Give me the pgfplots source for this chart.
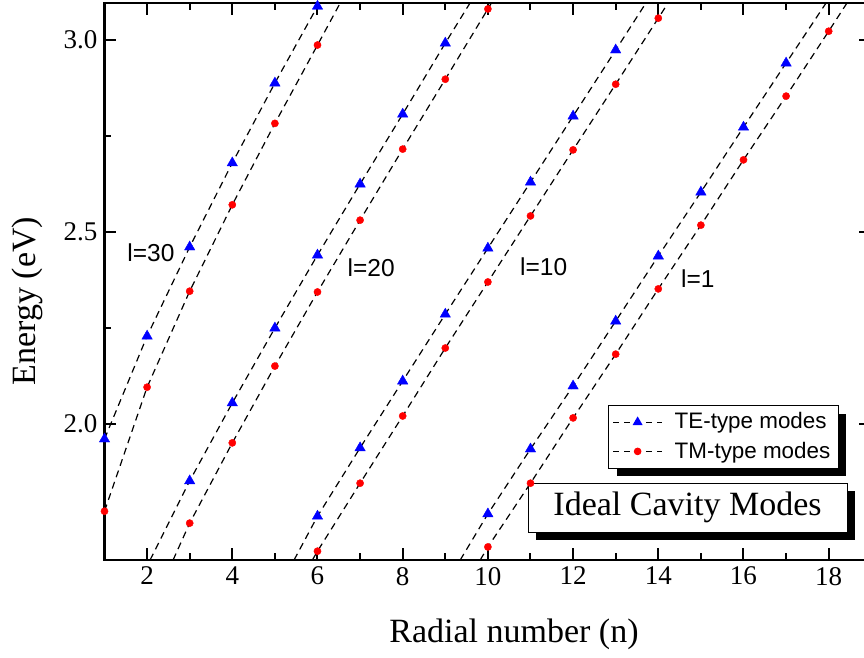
\documentclass[border=0pt]{standalone}
\usepackage{pgfplots}
\pgfplotsset{compat=1.18}
\usepackage{fontspec}
\setmainfont{Liberation Serif}
\newfontfamily\arialf{Liberation Sans}
\usetikzlibrary{shadows,calc}
\makeatletter
\tikzset{no preactions/.code={\let\tikz@preactions\pgfutil@empty}}
\makeatother
\pgfplotsset{
  fitline/.style={black, line width=0.6pt, dash pattern=on 3.5pt off 2.5pt, no markers, forget plot},
  te/.style={only marks, mark=triangle*, mark size=3.0pt, mark options={fill=blue, draw=blue, line width=0.2pt}, forget plot},
  tm/.style={only marks, mark=*, mark size=1.8pt, mark options={fill=red, draw=red, line width=0.2pt}, forget plot},
}
\begin{document}
\begin{tikzpicture}
\begin{axis}[
  name=ax,
  scale only axis,
  width=383.4pt, height=278.4pt,
  xmin=1, xmax=19, ymin=1.646, ymax=3.096,
  xtick={2,4,...,18}, minor x tick num=1,
  ytick={2.0,2.5,3.0}, minor y tick num=1,
  tick align=inside, tick pos=both,
  major tick length=6pt, minor tick length=3.5pt,
  every tick/.style={black, line width=1pt},
  axis line style={line width=1.3pt},
  tick label style={font=\fontsize{13.5}{15}\selectfont},
  /pgf/number format/assume math mode=true,
  yticklabel style={/pgf/number format/fixed, /pgf/number format/fixed zerofill, /pgf/number format/precision=1},
  xlabel={Radial number (n)}, ylabel={Energy (eV)},
  label style={font=\fontsize{17}{20}\selectfont},
  xlabel style={at={(rel axis cs:0.534,0)}, anchor=base, yshift=-41.5pt},
  ylabel style={at={($(rel axis cs:0,0.465)+(-38.5pt,0pt)$)}, anchor=center},
  legend style={at={(axis cs:12.82,2.0495)}, anchor=north west, draw=black, line width=0.5pt, fill=white,
    drop shadow={shadow xshift=4pt, shadow yshift=-4pt, fill=black, opacity=1},
    font=\arialf\fontsize{11.2}{13}\selectfont, inner xsep=2pt, inner ysep=1.5pt, row sep=1pt,
    /tikz/every odd column/.append style={column sep=4pt}},
  legend cell align=left,
  legend image code/.code={\draw[no preactions, mark repeat=2,mark phase=2,#1] plot coordinates {(0pt,0pt) (12.25pt,0pt) (24.5pt,0pt)};},
]
\addlegendimage{black, line width=0.6pt, dash pattern=on 3pt off 2.5pt, mark=triangle*, mark size=2.3pt, mark options={solid, fill=blue, draw=blue}}
\addlegendentry{TE-type modes}
\addlegendimage{black, line width=0.6pt, dash pattern=on 3pt off 2.5pt, mark=*, mark size=1.6pt, mark options={solid, fill=red, draw=red}}
\addlegendentry{TM-type modes}

% l = 30
\addplot[fitline] coordinates {(1,1.961) (2,2.229) (3,2.461) (4,2.680) (5,2.888) (6,3.088) (6.05,3.10)};
\addplot[fitline] coordinates {(1,1.773) (2,2.096) (3,2.346) (4,2.571) (5,2.783) (6,2.987) (6.55,3.10)};
% l = 20
\addplot[fitline] coordinates {(2.07,1.646) (3,1.852) (4,2.055) (5,2.250) (6,2.440) (7,2.625) (8,2.807) (9,2.992) (9.6,3.10)};
\addplot[fitline] coordinates {(2.61,1.646) (3,1.742) (4,1.951) (5,2.151) (6,2.344) (7,2.531) (8,2.716) (9,2.898) (10,3.081) (10.1,3.10)};
% l = 10
\addplot[fitline] coordinates {(5.45,1.646) (6,1.760) (7,1.938) (8,2.112) (9,2.286) (10,2.458) (11,2.630) (12,2.802) (13,2.974) (13.73,3.10)};
\addplot[fitline] coordinates {(5.88,1.646) (6,1.669) (7,1.846) (8,2.021) (9,2.198) (10,2.370) (11,2.542) (12,2.714) (13,2.885) (14,3.057) (14.25,3.10)};
% l = 1
\addplot[fitline] coordinates {(9.35,1.646) (10,1.766) (11,1.935) (12,2.099) (13,2.268) (14,2.4375) (15,2.604) (16,2.773) (17,2.940) (17.96,3.10)};
\addplot[fitline] coordinates {(9.82,1.646) (10,1.680) (11,1.846) (12,2.016) (13,2.182) (14,2.352) (15,2.518) (16,2.688) (17,2.854) (18,3.023) (18.45,3.10)};

% markers
\addplot[te] coordinates {(1,1.961) (2,2.229) (3,2.461) (4,2.680) (5,2.888) (6,3.088)};
\addplot[tm] coordinates {(1,1.773) (2,2.096) (3,2.346) (4,2.571) (5,2.783) (6,2.987)};
\addplot[te] coordinates {(3,1.852) (4,2.055) (5,2.250) (6,2.440) (7,2.625) (8,2.807) (9,2.992)};
\addplot[tm] coordinates {(3,1.742) (4,1.951) (5,2.151) (6,2.344) (7,2.531) (8,2.716) (9,2.898) (10,3.081)};
\addplot[te] coordinates {(6,1.760) (7,1.938) (8,2.112) (9,2.286) (10,2.458) (11,2.630) (12,2.802) (13,2.974)};
\addplot[tm] coordinates {(6,1.669) (7,1.846) (8,2.021) (9,2.198) (10,2.370) (11,2.542) (12,2.714) (13,2.885) (14,3.057)};
\addplot[te] coordinates {(10,1.766) (11,1.935) (12,2.099) (13,2.268) (14,2.4375) (15,2.604) (16,2.773) (17,2.940)};
\addplot[tm] coordinates {(10,1.680) (11,1.846) (12,2.016) (13,2.182) (14,2.352) (15,2.518) (16,2.688) (17,2.854) (18,3.023)};

\node[font=\arialf\fontsize{12.25}{14}\selectfont] at (axis cs:2.09,2.445) {l=30};
\node[font=\arialf\fontsize{12.25}{14}\selectfont] at (axis cs:7.26,2.406) {l=20};
\node[font=\arialf\fontsize{12.25}{14}\selectfont] at (axis cs:11.31,2.409) {l=10};
\node[font=\arialf\fontsize{12.25}{14}\selectfont] at (axis cs:14.93,2.380) {l=1};

\node[draw=black, line width=0.5pt, fill=white, inner sep=0pt,
  drop shadow={shadow xshift=4pt, shadow yshift=-4pt, fill=black, opacity=1},
  minimum width=159.5pt, minimum height=24.5pt, font=\fontsize{17}{20}\selectfont]
  at (axis cs:14.686,1.7826) {Ideal Cavity Modes};
\end{axis}
\pgfresetboundingbox
\path ($(ax.south west)+(-52.25pt,-49pt)$) rectangle ($(ax.south west)+(379.75pt,280pt)$);
\end{tikzpicture}
\end{document}
